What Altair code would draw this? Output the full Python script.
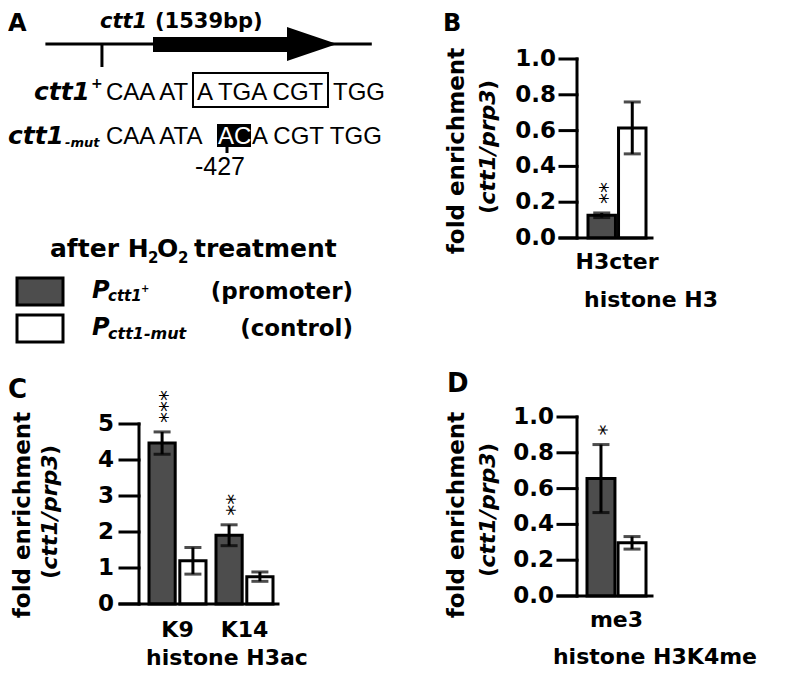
import altair as alt
import pandas as pd

# ---------------- data ----------------
samples = ["promoter", "control"]
sample_colors = ["#4d4d4d", "#ffffff"]

b_targets = ["H3cter"]
b_promoter_mean = [0.127]
b_promoter_err = [0.013]
b_control_mean = [0.615]
b_control_err = [0.145]
b_stars = ["**"]

c_targets = ["K9", "K14"]
c_promoter_mean = [4.47, 1.91]
c_promoter_err = [0.31, 0.29]
c_control_mean = [1.20, 0.76]
c_control_err = [0.37, 0.13]
c_stars = ["***", "**"]

d_targets = ["me3"]
d_promoter_mean = [0.656]
d_promoter_err = [0.19]
d_control_mean = [0.297]
d_control_err = [0.035]
d_stars = ["*"]

b_ticks = [0, 0.2, 0.4, 0.6, 0.8, 1.0]
c_ticks = [0, 1, 2, 3, 4, 5]
d_ticks = [0, 0.2, 0.4, 0.6, 0.8, 1.0]

# gene schematic (bp relative to ATG)
gene_start = 0
gene_length = 1539
mutation_site = -427
region_start = -900
region_end = 1830

# ---------------- layout ----------------
W, H = 784, 662
BOLD = "DejaVu Sans"
REG = "Liberation Sans"


def panel_df(targets, pm, pe, cm, ce, stars):
    rows = []
    for i, t in enumerate(targets):
        rows.append(dict(target=t, sample="promoter", value=pm[i], lo=pm[i] - pe[i],
                         hi=pm[i] + pe[i], stars=stars[i]))
        rows.append(dict(target=t, sample="control", value=cm[i], lo=cm[i] - ce[i],
                         hi=cm[i] + ce[i], stars=""))
    return pd.DataFrame(rows)


def bar_panel(df, targets, ydomain, yrange, yticks, yfmt, xrange, pi, sub_pad,
              axis_x, tick_len, label_pad, base_end, xlab_pad):
    xs = alt.Scale(domain=targets, range=xrange, paddingInner=pi, paddingOuter=0, round=False)
    ys = alt.Scale(domain=ydomain, range=yrange, nice=False, zero=True, round=False)
    xo = alt.XOffset("sample:N", sort=samples,
                     scale=alt.Scale(domain=samples, paddingInner=sub_pad, paddingOuter=0))
    xe = alt.X("target:N", scale=xs, sort=targets, axis=None)
    base = alt.Chart(df)
    bars = base.mark_bar(stroke="black", strokeWidth=3).encode(
        x=xe, xOffset=xo,
        y=alt.Y("value:Q", scale=ys, axis=None),
        color=alt.Color("sample:N", scale=alt.Scale(domain=samples, range=sample_colors),
                        legend=None),
    )
    rules = base.mark_rule(color="black", strokeWidth=3).encode(
        x=xe, xOffset=xo, y=alt.Y("lo:Q", scale=ys, axis=None), y2="hi:Q")
    cap_lo = base.mark_tick(color="black", thickness=3, size=17, orient="horizontal").encode(
        x=xe, xOffset=xo, y=alt.Y("lo:Q", scale=ys, axis=None))
    cap_hi = base.mark_tick(color="black", thickness=3, size=17, orient="horizontal").encode(
        x=xe, xOffset=xo, y=alt.Y("hi:Q", scale=ys, axis=None))
    # significance stars, stacked vertically (text running upward)
    stars = base.mark_text(
        font=BOLD, fontSize=22, fontWeight="normal", angle=270, align="left",
        baseline="middle", dx=9, dy=6, color="black"
    ).encode(x=xe, xOffset=xo, y=alt.Y("hi:Q", scale=ys, axis=None), text="stars:N")
    # axes drawn from the same scales
    dom = pd.DataFrame({"lo": [ydomain[0]], "hi": [ydomain[1]]})
    tk = pd.DataFrame({"v": yticks})
    rule_kw = dict(color="black", strokeWidth=3, strokeCap="square")
    yline = alt.Chart(dom).mark_rule(**rule_kw).encode(
        x=alt.value(axis_x), y=alt.Y("lo:Q", scale=ys, axis=None), y2="hi:Q")
    yt = alt.Chart(tk).mark_rule(**rule_kw).encode(
        x=alt.value(axis_x - tick_len), x2=alt.value(axis_x),
        y=alt.Y("v:Q", scale=ys, axis=None))
    ylab = alt.Chart(tk).mark_text(
        align="right", baseline="middle", font=BOLD, fontWeight="bold", fontSize=23,
        color="black").encode(
        x=alt.value(axis_x - tick_len - label_pad), y=alt.Y("v:Q", scale=ys, axis=None),
        text=alt.Text("v:Q", format=yfmt))
    xline = alt.Chart(dom).mark_rule(**rule_kw).encode(
        x=alt.value(axis_x - tick_len), x2=alt.value(base_end),
        y=alt.Y("lo:Q", scale=ys, axis=None))
    xlab = alt.Chart(pd.DataFrame({"target": targets})).mark_text(
        baseline="top", font=BOLD, fontWeight="bold", fontSize=22, color="black").encode(
        x=xe, y=alt.value(yrange[0] + xlab_pad), text="target:N")
    return alt.layer(bars, rules, cap_lo, cap_hi, stars, yline, yt, ylab, xline, xlab)


def label(text, x, y, size, weight="bold", style="normal", font=BOLD, align="left",
          baseline="alphabetic", angle=0, color="black"):
    return alt.Chart(pd.DataFrame({"t": [text]})).mark_text(
        font=font, fontSize=size, fontWeight=weight, fontStyle=style, align=align,
        baseline=baseline, angle=angle, color=color
    ).encode(x=alt.value(x - 8), y=alt.value(y - 8), text="t:N")


def box(x1, y1, x2, y2, fill, sw):
    return alt.Chart(pd.DataFrame({"k": [0]})).mark_rect(
        fill=fill, stroke="black", strokeWidth=sw
    ).encode(x=alt.value(x1 - 8), x2=alt.value(x2 - 8), y=alt.value(y1 - 8), y2=alt.value(y2 - 8))


def vtick(x, y1, y2):
    return alt.Chart(pd.DataFrame({"k": [0]})).mark_rule(color="black", strokeWidth=3).encode(
        x=alt.value(x - 8), y=alt.value(y1 - 8), y2=alt.value(y2 - 8))


def ytitle(cx1, cy1, cx2, cy2):
    w = 57
    return [
        label("fold enrichment", cx1, cy1, 23, align="center", baseline="middle", angle=270),
        label("(", cx2, cy2 + w, 22, align="right", baseline="middle", angle=270),
        label("ctt1/prp3", cx2, cy2, 22, style="italic", align="center", baseline="middle", angle=270),
        label(")", cx2, cy2 - w, 22, align="left", baseline="middle", angle=270),
    ]


# ---------------- panel A: schematic ----------------
sch_df = pd.DataFrame({"start": [region_start], "end": [region_end], "gs": [gene_start],
                       "ge": [gene_length], "site": [mutation_site]})
sch_scale = alt.Scale(domain=[gene_start, gene_length], range=[153 - 8, 337 - 8],
                      zero=False, nice=False)
sch = alt.Chart(sch_df)
sch_line = sch.mark_rule(color="black", strokeWidth=3).encode(
    x=alt.X("start:Q", scale=sch_scale, axis=None), x2="end:Q", y=alt.value(36))
sch_site = sch.mark_rule(color="black", strokeWidth=3).encode(
    x=alt.X("site:Q", scale=sch_scale, axis=None), y=alt.value(36), y2=alt.value(59))
sch_body = sch.mark_rect(color="black", x2Offset=-48).encode(
    x=alt.X("gs:Q", scale=sch_scale, axis=None), x2="ge:Q", y=alt.value(29), y2=alt.value(44))
sch_head = sch.mark_point(shape="M-2,-0.68L0,0L-2,0.68Z", size=2500, filled=True,
                          color="black", opacity=1, strokeWidth=0).encode(
    x=alt.X("ge:Q", scale=sch_scale, axis=None), y=alt.value(36))
schematic = alt.layer(sch_line, sch_site, sch_body, sch_head)

annot = [
    label("A", 8, 31, 24),
    label("ctt1", 100, 28, 21, style="italic"),
    label("(1539bp)", 155, 28, 21),
    # wild-type sequence
    label("ctt1", 90, 100, 25, style="italic", align="right"),
    label("+", 91, 88, 14),
    label("CAA AT", 106, 100, 24, weight="normal", font=REG),
    box(193, 73, 328, 107, "transparent", 2),
    label("A TGA CGT", 197, 100, 24, weight="normal", font=REG),
    label("TGG", 333, 100, 24, weight="normal", font=REG),
    # mutant sequence
    label("ctt1", 64, 144, 25, style="italic", align="right"),
    label("-mut", 65, 147, 13, style="italic"),
    label("CAA ATA", 106, 144, 24, weight="normal", font=REG),
    box(217, 124, 251, 147, "black", 0),
    label("AC", 218, 144, 24, weight="normal", font=REG, color="white"),
    label("A CGT TGG", 252, 144, 24, weight="normal", font=REG),
    vtick(227, 147, 153),
    label("-427", 220, 175, 25, weight="normal", font=REG, align="center"),
    # legend
    label("after H", 50, 257, 25),
    label("2", 148, 263, 15),
    label("O", 157, 257, 25),
    label("2", 178, 263, 15),
    label("treatment", 194, 257, 25),
    box(17, 278, 63, 305, sample_colors[0], 3),
    label("P", 92, 298, 24, style="italic"),
    label("ctt1", 108, 301, 15, style="italic"),
    label("+", 141, 292, 10),
    label("(promoter)", 353, 299, 23, align="right"),
    box(17, 315, 63, 342, sample_colors[1], 3),
    label("P", 92, 335, 24, style="italic"),
    label("ctt1-mut", 108, 339, 16, style="italic"),
    label("(control)", 353, 336, 23, align="right"),
    # panel letters and axis titles
    label("B", 443, 31, 24),
    label("C", 8, 398, 26),
    label("D", 447, 392, 26),
    label("histone H3", 651, 307, 22, align="center"),
    label("histone H3ac", 227, 665, 22, align="center"),
    label("histone H3K4me", 655, 664, 22, align="center"),
]
annot += ytitle(457, 151, 488, 147)
annot += ytitle(23, 515, 50, 512)
annot += ytitle(457, 515, 488, 510)

# ---------------- panels B, C, D (canvas pixel ranges) ----------------
panel_b = bar_panel(panel_df(b_targets, b_promoter_mean, b_promoter_err, b_control_mean,
                             b_control_err, b_stars),
                    b_targets, [0, 1], [230, 51], b_ticks, ".1f", [580, 638], 0.0, 0.1,
                    569, 17, 4, 644, 14)
panel_c = bar_panel(panel_df(c_targets, c_promoter_mean, c_promoter_err, c_control_mean,
                             c_control_err, c_stars),
                    c_targets, [0, 5], [596, 416], c_ticks, "d", [141, 265], 0.149, 0.15,
                    131, 19, 6, 270, 16)
panel_d = bar_panel(panel_df(d_targets, d_promoter_mean, d_promoter_err, d_control_mean,
                             d_control_err, d_stars),
                    d_targets, [0, 1], [588, 409], d_ticks, ".1f", [579, 638], 0.0, 0.1,
                    569, 19, 4, 644, 14)

chart = alt.layer(schematic, *annot, panel_b, panel_c, panel_d).resolve_scale(
    x="independent", y="independent", xOffset="independent"
).properties(
    width=W, height=H, padding=0, autosize=alt.AutoSizeParams(type="none"),
    background="white"
).configure_view(stroke=None)

chart.save("out.html", embed_options={"renderer": "svg", "actions": False})
